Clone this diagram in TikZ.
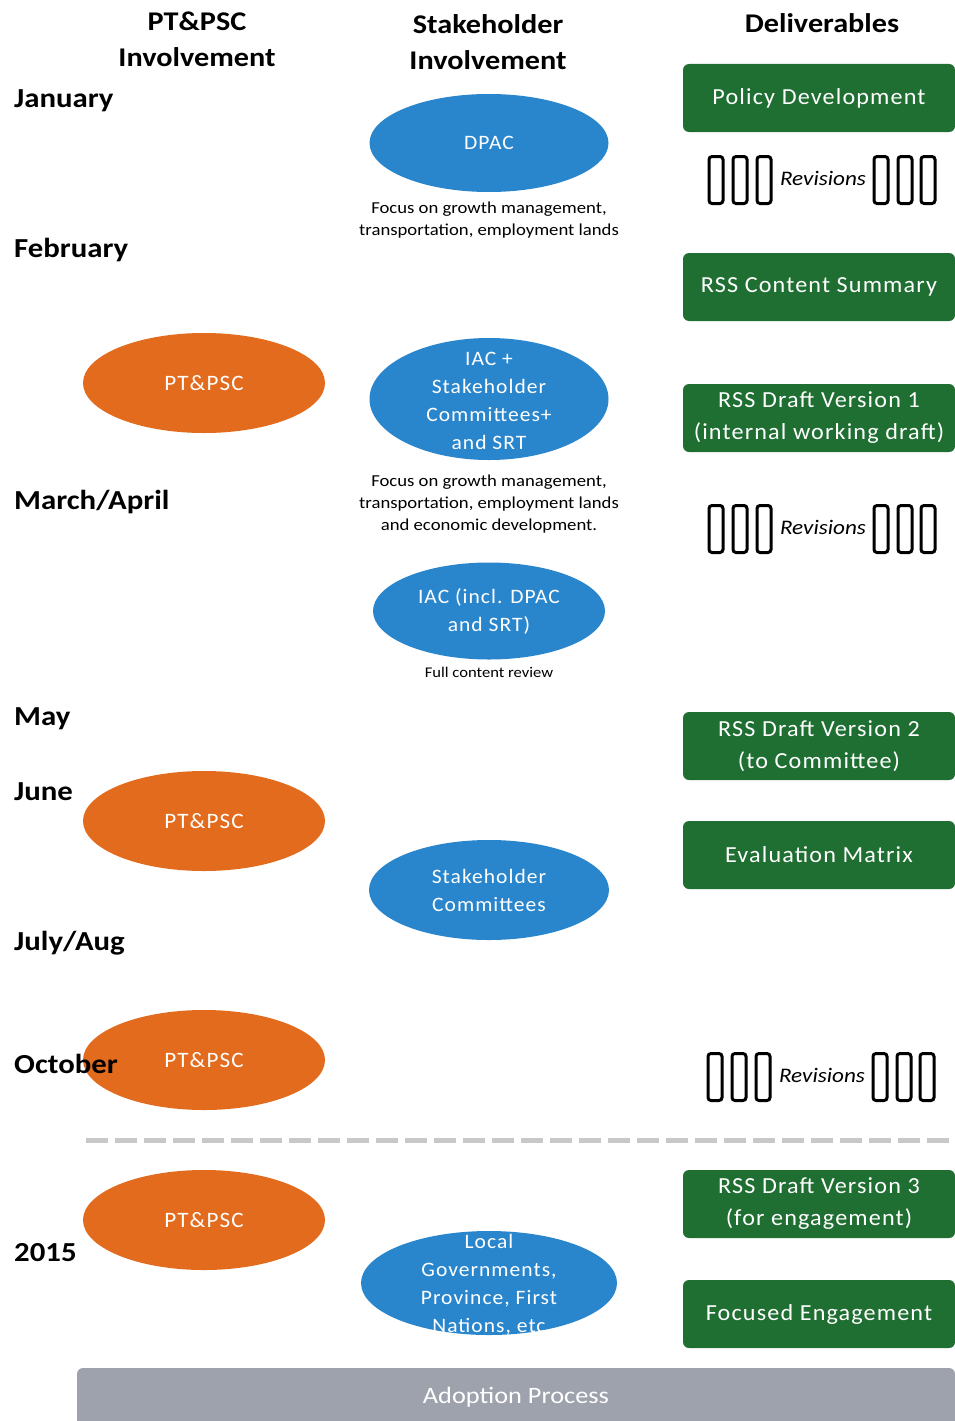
\documentclass[tikz,border=0pt]{standalone}
\usepackage{fontspec}
\setmainfont{Carlito}[FakeStretch=1.12]
\newfontfamily\spacedfont{Carlito}[LetterSpace=5,FakeStretch=1.05]
\usetikzlibrary{positioning,shapes.geometric}

\definecolor{pscorange}{HTML}{E26B1E}
\definecolor{stakeblue}{HTML}{2A86CC}
\definecolor{delivgreen}{HTML}{1F6E32}
\definecolor{adoptgray}{HTML}{9EA2AC}
\definecolor{cutgray}{HTML}{C8C8C8}

\begin{document}
\begin{tikzpicture}[
  x=1pt, y=-1pt,
  head/.style={font=\bfseries\fontsize{27}{36}\selectfont, align=center, inner sep=0pt},
  month/.style={font=\bfseries\fontsize{27.5}{30}\selectfont, anchor=west, inner sep=0pt},
  psc/.style={ellipse, fill=pscorange, text=white, inner sep=0pt,
    minimum width=242pt, minimum height=100pt, font=\spacedfont\fontsize{22}{28}\selectfont},
  stake/.style={ellipse, fill=stakeblue, text=white, align=center, inner sep=0pt,
    minimum width=239pt, minimum height=98pt, font=\spacedfont\fontsize{20.5}{28}\selectfont},
  staketxt/.style={text=white, align=center, inner sep=0pt, font=\spacedfont\fontsize{20.5}{28}\selectfont},
  note/.style={align=center, inner sep=0pt, font=\fontsize{16.7}{22}\selectfont},
  deliv/.style={fill=delivgreen, text=white, rounded corners=6pt, align=center, inner sep=0pt,
    minimum width=272pt, minimum height=68pt, font=\spacedfont\fontsize{23}{32}\selectfont},
  revbar/.style={draw, line width=3pt, rounded corners=3pt, inner sep=0pt,
    minimum width=14pt, minimum height=47pt},
  revtxt/.style={inner sep=0pt, font=\itshape\fontsize{20.7}{22}\selectfont}
]
\useasboundingbox (0,0) rectangle (955,1421);

% column heads
\node[head] (hpsc) at (197,39) {PT\&PSC\\Involvement};
\node[head] (hstake) at (488,42) {Stakeholder\\Involvement};
\node[head] (hdeliv) at (822,23) {Deliverables};

% PT&PSC column
\node[psc] (psc1) at (204,383) {PT\&PSC};
\node[psc] (psc2) at (204,821) {PT\&PSC};
\node[psc] (psc3) at (204,1060) {PT\&PSC};
\node[psc] (psc4) at (204,1220) {PT\&PSC};

% months
\node[month] (jan) at (14,101) {January};
\node[month] (feb) at (14,250) {February};
\node[month] (mar) at (14,502) {March/April};
\node[month] (may) at (14,719) {May};
\node[month] (jun) at (14,792) {June};
\node[month] (jul) at (14,943) {July/Aug};
\node[month] (oct) at (14,1064) {October};
\node[month] (y15) at (14,1253) {2015};

% stakeholder column
\node[stake] (dpac) at (489,143) {DPAC};
\node[note, below=10pt of dpac] (dpacnote) {Focus on growth management,\\transportation, employment lands};
\node[stake, minimum height=122pt] (iac) at (489,399) {};
\node[staketxt] (iactxt) at ([yshift=-2pt]iac.center) {IAC +\\Stakeholder\\Committees+\\and SRT};
\node[note, below=14pt of iac] (iacnote) {Focus on growth management,\\transportation, employment lands\\and economic development.};
\node[stake, minimum width=232pt, minimum height=97pt] (iacall) at (489,611) {IAC (incl. DPAC\\and SRT)};
\node[note, font=\fontsize{14.8}{16}\selectfont, below=7pt of iacall] (iacallnote) {Full content review};
\node[stake, minimum width=240pt, minimum height=100pt] (stkcom) at (489,890) {Stakeholder\\Committees};
\node[stake, minimum width=256pt, minimum height=104pt] (localgov) at (489,1283) {};
\node[staketxt] (localtxt) at ([yshift=-2pt]localgov.center) {Local\\Governments,\\Province, First\\Nations, etc};

% deliverables column
\node[deliv] (policy) at (819,98) {Policy Development};
\node[deliv] (summary) at (819,287) {RSS Content Summary};
\node[deliv] (draft1) at (819,418) {RSS Draft Version 1\\(internal working draft)};
\node[deliv] (draft2) at (819,746) {RSS Draft Version 2\\(to Committee)};
\node[deliv] (matrix) at (819,855) {Evaluation Matrix};
\node[deliv] (draft3) at (819,1204) {RSS Draft Version 3\\(for engagement)};
\node[deliv] (engage) at (819,1314) {Focused Engagement};

% revisions
\node[revtxt] (rev1) at (823,178) {Revisions};
\node[revtxt] (rev2) at (823,527) {Revisions};
\node[revtxt] (rev3) at (822,1075) {Revisions};
\foreach \bx [count=\k] in {716,740,764,881,905,928} {
  \node[revbar] (rev1bar\k) at (\bx,180) {};
  \node[revbar] (rev2bar\k) at (\bx,529) {};
  \node[revbar] (rev3bar\k) at (\bx-1,1077) {};
}

% cut line before 2015
\coordinate (cutl) at (86,1140);
\coordinate (cutr) at (950,1140);
\draw[cutgray, line width=5pt, dash pattern=on 22pt off 7pt] (cutl) -- (cutr);

% adoption
\node[fill=adoptgray, text=white, rounded corners=6pt, minimum width=878pt, minimum height=58pt,
  font=\fontsize{23.5}{26}\selectfont] (adopt) at (516,1397) {Adoption Process};
\end{tikzpicture}
\end{document}
